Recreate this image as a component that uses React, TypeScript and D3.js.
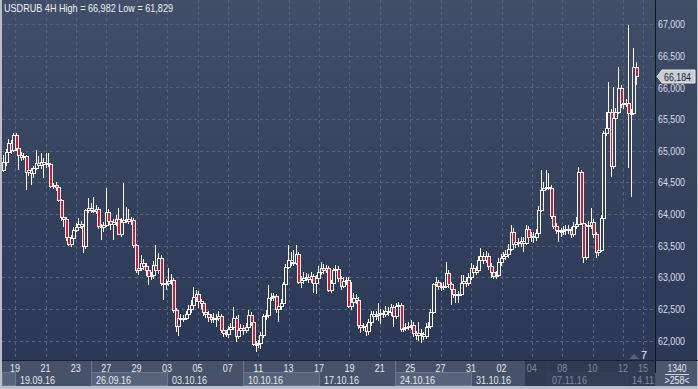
import React, { useEffect, useRef } from 'react';
import * as d3 from 'd3';

const title = 'USDRUB 4H High = 66,982 Low = 61,829';
const firstOpen = 64700;
const lastPrice = 66184;

// 4H closes, left to right
const closes = [
  64820, 64980, 65125, 65015, 65250, 65045, 64935, 64900, 64920, 64665,
  64695, 64650, 64730, 64810, 64775, 64820, 64790, 64810, 64790, 64445,
  64460, 64430, 64225, 63955, 63925, 63640, 63530, 63625, 63750, 63795,
  63845, 63810, 63495, 64065, 64095, 64065, 64050, 64080, 63810, 63795,
  63830, 64035, 63890, 63845, 63875, 63925, 63685, 63875, 63905, 63925,
  63890, 63905, 63510, 63115, 63150, 63230, 63180, 63115, 63020, 63040,
  63195, 63115, 63305, 62910, 62895, 62910, 62945, 62960, 62485, 62230,
  62360, 62345, 62360, 62420, 62500, 62565, 62690, 62740, 62625, 62595,
  62455, 62420, 62375, 62345, 62360, 62360, 62390, 62170, 62120, 62105,
  62185, 62215, 62360, 62075, 62170, 62200, 62170, 62215, 62405, 62295,
  61950, 61950, 61965, 62090, 62390, 62405, 62675, 62690, 62705, 62500,
  62550, 62595, 62895, 63165, 63275, 63245, 63230, 63370, 62925, 62960,
  62990, 63005, 62975, 63020, 62910, 62990, 63085, 63150, 63115, 63150,
  62800, 62910, 63115, 63135, 62990, 62865, 62945, 62960, 62550, 62610,
  62675, 62645, 62250, 62215, 62230, 62155, 62295, 62420, 62390, 62405,
  62420, 62440, 62420, 62470, 62455, 62530, 62390, 62550, 62565, 62185,
  62200, 62215, 62230, 62250, 62120, 62090, 62120, 62105, 62075, 62215,
  62230, 62455, 62895, 62925, 62865, 62850, 62865, 63070, 62895, 62815,
  62740, 62720, 62740, 62910, 62945, 62910, 63005, 63150, 63085, 63115,
  63275, 63340, 63275, 63340, 63180, 63085, 63020, 63040, 63245, 63305,
  63340, 63370, 63450, 63715, 63530, 63560, 63545, 63575, 63545, 63765,
  63640, 63655, 63640, 63700, 64065, 64380, 64415, 64430, 64415, 63970,
  63810, 63750, 63735, 63735, 63750, 63765, 63750, 63685, 63810, 63845,
  64665, 63860, 63320, 63810, 63830, 63875, 63685, 63400, 63435, 63940,
  65280, 65360, 65615, 64760, 65520, 65615, 65995, 65740, 65755, 65755,
  65600, 65600, 66325, 66184,
];

// upper shadow above the body, in rubles*1000
const wickHi = [
  110, 50, 60, 40, 30, 30, 30, 40, 50, 20,
  40, 30, 30, 210, 110, 140, 60, 160, 150, 20,
  30, 40, 30, 20, 30, 30, 30, 40, 50, 60,
  90, 50, 20, 20, 160, 80, 200, 60, 30, 40,
  50, 380, 40, 60, 50, 60, 170, 60, 580, 180,
  150, 50, 30, 20, 40, 130, 60, 50, 50, 40,
  70, 320, 80, 50, 40, 60, 210, 90, 30, 30,
  40, 60, 40, 50, 60, 80, 160, 60, 50, 40,
  30, 40, 50, 50, 70, 60, 80, 30, 40, 50,
  50, 60, 170, 30, 240, 60, 50, 60, 80, 50,
  30, 40, 50, 40, 30, 80, 210, 60, 50, 30,
  50, 60, 30, 40, 240, 120, 190, 140, 30, 60,
  90, 60, 50, 60, 40, 50, 100, 100, 60, 50,
  30, 50, 40, 60, 50, 30, 60, 50, 40, 320,
  80, 60, 40, 40, 50, 40, 50, 50, 50, 60,
  170, 60, 50, 80, 60, 50, 40, 40, 50, 30,
  50, 60, 60, 70, 50, 30, 170, 60, 40, 60,
  60, 50, 20, 80, 40, 50, 60, 170, 40, 40,
  50, 60, 50, 130, 100, 60, 70, 80, 50, 60,
  70, 130, 60, 70, 50, 40, 50, 60, 60, 60,
  60, 60, 80, 110, 60, 60, 60, 70, 60, 60,
  50, 60, 60, 70, 60, 320, 90, 270, 220, 40,
  30, 50, 60, 50, 60, 60, 70, 50, 60, 110,
  80, 30, 30, 40, 60, 220, 50, 40, 40, 40,
  40, 250, 470, 40, 490, 60, 330, 50, 60, 60,
  1227, 60, 300, 80,
];

// lower shadow below the body
const wickLo = [
  30, 60, 40, 60, 40, 50, 240, 60, 40, 290,
  60, 190, 80, 40, 50, 60, 220, 60, 40, 30,
  50, 60, 40, 60, 130, 60, 30, 50, 60, 40,
  50, 40, 110, 40, 40, 50, 40, 50, 40, 200,
  80, 30, 50, 100, 250, 60, 20, 40, 40, 50,
  50, 60, 50, 50, 80, 50, 60, 100, 140, 60,
  60, 40, 60, 40, 250, 100, 50, 60, 40, 100,
  150, 60, 50, 40, 50, 60, 40, 80, 110, 90,
  70, 60, 80, 60, 70, 150, 50, 50, 60, 40,
  60, 50, 40, 90, 50, 60, 80, 50, 40, 60,
  40, 121, 60, 100, 40, 60, 40, 50, 60, 60,
  200, 60, 40, 30, 40, 60, 50, 40, 30, 90,
  60, 50, 70, 60, 150, 170, 50, 50, 60, 50,
  30, 40, 40, 60, 60, 70, 40, 60, 40, 60,
  60, 70, 60, 100, 60, 80, 70, 60, 60, 60,
  90, 150, 60, 50, 60, 60, 180, 50, 40, 40,
  50, 50, 40, 60, 60, 80, 90, 140, 60, 50,
  60, 40, 30, 50, 60, 60, 50, 40, 60, 250,
  70, 120, 130, 40, 60, 60, 50, 50, 60, 50,
  50, 40, 60, 50, 60, 100, 40, 50, 40, 60,
  60, 60, 60, 40, 50, 60, 70, 60, 140, 40,
  60, 80, 100, 60, 30, 30, 50, 40, 40, 40,
  40, 60, 170, 90, 60, 80, 60, 60, 50, 40,
  30, 30, 100, 50, 150, 60, 70, 100, 60, 30,
  30, 40, 40, 170, 40, 80, 40, 70, 80, 60,
  870, 1330, 40, 140,
];

const priceTicks = [62000, 62500, 63000, 63500, 64000, 64500, 65000, 65500, 66000, 66500, 67000];

// day labels on the time axis, placed at bar positions
const dayLabels = ['19', '21', '23', '27', '29', '03', '05', '07', '11', '13', '17', '19', '21', '25', '27', '31', '02', '04', '08', '10', '12', '15'];
const dayBars = [4.8, 17, 29.1, 41.3, 53.4, 65.6, 77.8, 89.9, 102.1, 114.2, 126.4, 138.6, 150.7, 162.9, 175, 187.2, 199.4, 211.5, 223.7, 235.8, 248, 256];

const weekLabels = ['', '19.09.16', '26.09.16', '03.10.16', '10.10.16', '17.10.16', '24.10.16', '31.10.16', '07.11.16', '14.11'];
const weekBars = [-0.4, 4.8, 35.2, 65.6, 96, 126.4, 156.8, 187.2, 217.6, 249.6];
const selectionStartBar = 208.8;

const W = 698;
const H = 389;
const font = '"Liberation Sans", Arial, sans-serif';

export default function App() {
  const ref = useRef<SVGSVGElement>(null);

  useEffect(() => {
    const svg = d3.select(ref.current);
    svg.selectAll('*').remove();

    const plotL = 2;
    const plotR = 655;
    const plotB = 360;
    const axisB = 386;

    const x = d3.scaleLinear().domain([0, closes.length - 1]).range([3, 635.5]);
    const y = d3.scaleLinear().domain([62000, 67000]).range([340.7, 24.2]);

    const candles = closes.map((c, i) => {
      const o = i === 0 ? firstOpen : closes[i - 1];
      return { i, o, c, h: Math.max(o, c) + wickHi[i], l: Math.min(o, c) - wickLo[i] };
    });

    const defs = svg.append('defs');
    const grad = defs
      .append('linearGradient')
      .attr('id', 'bg')
      .attr('gradientUnits', 'userSpaceOnUse')
      .attr('x1', 0)
      .attr('y1', 0)
      .attr('x2', 0)
      .attr('y2', plotB);
    grad.append('stop').attr('offset', 0).attr('stop-color', '#404e68');
    grad.append('stop').attr('offset', 1).attr('stop-color', '#2b3856');
    defs
      .append('clipPath')
      .attr('id', 'plotclip')
      .append('rect')
      .attr('x', plotL)
      .attr('y', 0)
      .attr('width', plotR - plotL)
      .attr('height', plotB);

    // backgrounds
    svg.append('rect').attr('width', W).attr('height', H).attr('fill', '#b8bfca');
    svg.append('rect').attr('x', plotL).attr('y', 0).attr('width', W - plotL - 1).attr('height', plotB).attr('fill', 'url(#bg)');

    // grid
    const grid = svg.append('g').attr('stroke', '#56637c').attr('stroke-dasharray', '3,3').attr('shape-rendering', 'crispEdges');
    grid
      .selectAll('line.h')
      .data(priceTicks)
      .join('line')
      .attr('x1', plotL)
      .attr('x2', plotR)
      .attr('y1', d => Math.round(y(d)) + 0.5)
      .attr('y2', d => Math.round(y(d)) + 0.5);
    grid
      .selectAll('line.v')
      .data(dayBars.filter(b => x(b) < 650))
      .join('line')
      .attr('y1', 0)
      .attr('y2', plotB)
      .attr('x1', d => Math.round(x(d)) + 0.5)
      .attr('x2', d => Math.round(x(d)) + 0.5);

    // candles
    const cg = svg.append('g').attr('clip-path', 'url(#plotclip)').attr('shape-rendering', 'crispEdges');
    const px = (i: number) => Math.round(x(i));
    cg.selectAll('line')
      .data(candles)
      .join('line')
      .attr('x1', d => px(d.i) + 0.5)
      .attr('x2', d => px(d.i) + 0.5)
      .attr('y1', d => Math.round(y(d.h)))
      .attr('y2', d => Math.round(y(d.l)))
      .attr('stroke', '#fbf7f2');
    cg.selectAll('rect')
      .data(candles)
      .join('rect')
      .attr('x', d => px(d.i) - 0.5)
      .attr('width', 3)
      .attr('y', d => Math.round(y(Math.max(d.o, d.c))) + 0.5)
      .attr('height', d => Math.max(1, Math.round(y(Math.min(d.o, d.c))) - Math.round(y(Math.max(d.o, d.c)))))
      .attr('fill', d => (d.c < d.o ? '#e3122f' : 'url(#bg)'))
      .attr('stroke', '#fbf7f2')
      .attr('stroke-width', 1);

    // title
    svg
      .append('text')
      .attr('x', 4)
      .attr('y', 12)
      .attr('font-family', font)
      .attr('font-size', 11.5)
      .attr('fill', '#eef1f6')
      .attr('textLength', 169)
      .attr('lengthAdjust', 'spacingAndGlyphs')
      .text(title);

    // price axis
    svg
      .append('line')
      .attr('x1', plotR + 0.5)
      .attr('x2', plotR + 0.5)
      .attr('y1', 0)
      .attr('y2', axisB)
      .attr('stroke', '#10151f');
    svg
      .append('g')
      .selectAll('text')
      .data(priceTicks)
      .join('text')
      .attr('x', 658)
      .attr('y', d => y(d) + 4)
      .attr('font-family', font)
      .attr('font-size', 11)
      .attr('fill', '#d9dee7')
      .attr('textLength', 27)
      .attr('lengthAdjust', 'spacingAndGlyphs')
      .text(d => d3.format(',')(d));

    const ly = Math.round(y(lastPrice));
    svg
      .append('path')
      .attr('d', `M657,${ly + 0.5} L662,${ly - 6} L695,${ly - 6} L695,${ly + 7} L662,${ly + 7} Z`)
      .attr('fill', '#c9ced6')
      .attr('stroke', '#e8ebf0');
    svg
      .append('text')
      .attr('x', 664)
      .attr('y', ly + 5)
      .attr('font-family', font)
      .attr('font-size', 11)
      .attr('fill', '#1b2233')
      .attr('textLength', 27)
      .attr('lengthAdjust', 'spacingAndGlyphs')
      .text(d3.format(',')(lastPrice));

    // scroll marker
    svg.append('path').attr('d', 'M629,359 L634,354 L639,359 Z').attr('fill', '#56607a');
    svg
      .append('text')
      .attr('x', 641)
      .attr('y', 359)
      .attr('font-family', font)
      .attr('font-size', 11)
      .attr('fill', '#e6eaf0')
      .text('7');

    // time axis
    const ax = svg.append('g').attr('shape-rendering', 'crispEdges');
    ax.append('rect').attr('x', plotL).attr('y', plotB + 1).attr('width', plotR - plotL).attr('height', axisB - plotB - 1).attr('fill', '#45526a');
    ax.append('line').attr('x1', plotL).attr('x2', W).attr('y1', plotB + 0.5).attr('y2', plotB + 0.5).attr('stroke', '#1a2232');

    const weeks = weekBars.map((b, k) => ({
      k,
      label: weekLabels[k],
      x0: Math.max(plotL, Math.round(x(b))),
      x1: k < weekBars.length - 1 ? Math.round(x(weekBars[k + 1])) : plotR,
    }));
    ax.selectAll('rect.wk')
      .data(weeks)
      .join('rect')
      .attr('x', d => d.x0 + 0.5)
      .attr('y', 372.5)
      .attr('width', d => d.x1 - d.x0)
      .attr('height', 13)
      .attr('fill', d => (d.k % 2 === 0 ? '#56637a' : '#45526a'))
      .attr('stroke', d => (d.k % 2 === 0 ? '#6a768b' : 'none'));
    ax.selectAll('line.sep')
      .data(weeks.filter(d => d.k % 2 === 0 && d.k > 0))
      .join('line')
      .attr('x1', d => d.x0 + 0.5)
      .attr('x2', d => d.x0 + 0.5)
      .attr('y1', plotB + 1)
      .attr('y2', axisB)
      .attr('stroke', '#6a768b');

    const selX = Math.round(x(selectionStartBar));
    ax.append('rect').attr('x', selX).attr('y', plotB + 1).attr('width', plotR - selX).attr('height', axisB - plotB - 1).attr('fill', '#2c3850').attr('opacity', 0.88);

    svg
      .append('g')
      .selectAll('text')
      .data(dayLabels.map((t, k) => ({ t, b: dayBars[k] })))
      .join('text')
      .attr('x', d => x(d.b))
      .attr('y', 372)
      .attr('text-anchor', 'middle')
      .attr('font-family', font)
      .attr('font-size', 11.5)
      .attr('fill', d => (x(d.b) >= selX ? '#7e899d' : '#e4e8ef'))
      .attr('textLength', 10)
      .attr('lengthAdjust', 'spacingAndGlyphs')
      .text(d => d.t);

    svg
      .append('g')
      .selectAll('text')
      .data(weeks.filter(d => d.label))
      .join('text')
      .attr('x', d => d.x0 + 5)
      .attr('y', 384)
      .attr('font-family', font)
      .attr('font-size', 11.5)
      .attr('fill', d => (d.x0 >= selX ? '#7e899d' : '#e4e8ef'))
      .attr('textLength', d => (d.label.length > 5 ? 35 : 22))
      .attr('lengthAdjust', 'spacingAndGlyphs')
      .text(d => d.label);

    // corner box
    svg.append('rect').attr('x', plotR + 1).attr('y', plotB + 1).attr('width', W - plotR - 2).attr('height', axisB - plotB - 1).attr('fill', '#4a576f');
    svg
      .append('text')
      .attr('x', 677)
      .attr('y', 372)
      .attr('text-anchor', 'middle')
      .attr('font-family', font)
      .attr('font-size', 11)
      .attr('fill', '#e4e8ef')
      .attr('textLength', 19)
      .attr('lengthAdjust', 'spacingAndGlyphs')
      .text('1340');
    svg.append('line').attr('x1', 665).attr('x2', 689).attr('y1', 374.5).attr('y2', 374.5).attr('stroke', '#d0d5dd');
    svg
      .append('text')
      .attr('x', 677)
      .attr('y', 384)
      .attr('text-anchor', 'middle')
      .attr('font-family', font)
      .attr('font-size', 11)
      .attr('fill', '#e4e8ef')
      .attr('textLength', 25)
      .attr('lengthAdjust', 'spacingAndGlyphs')
      .text('>258<');
  }, []);

  return (
    <svg
      ref={ref}
      width={W}
      height={H}
      style={{ position: 'absolute', left: 0, top: 0, display: 'block' }}
    />
  );
}
